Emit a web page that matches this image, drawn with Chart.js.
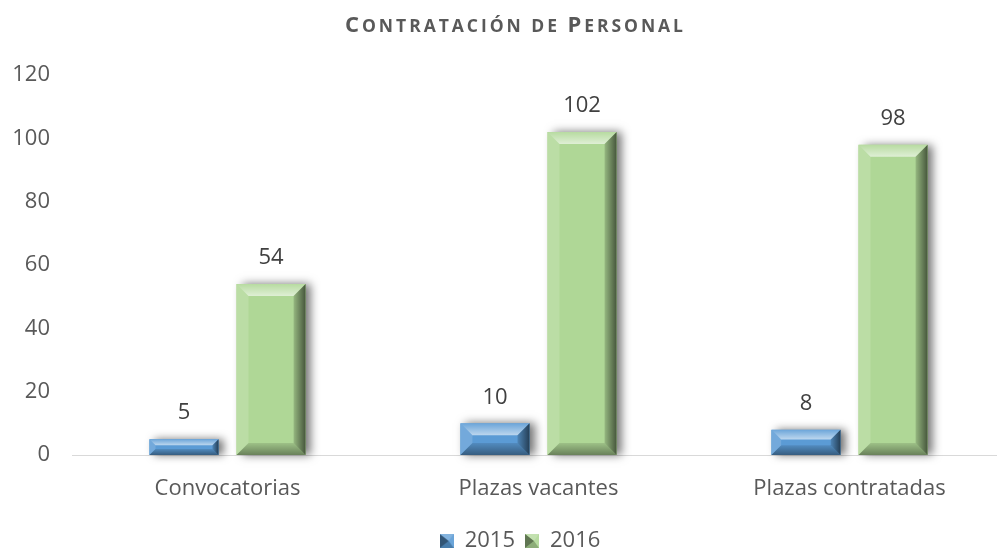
<!DOCTYPE html>
<html>
<head>
<meta charset="utf-8">
<script src="https://cdn.jsdelivr.net/npm/chart.js@4"></script>
<style>
html,body{margin:0;padding:0;background:#fff;overflow:hidden;width:997px;height:550px;}
#wrap{width:1028px;height:562px;}
</style>
</head>
<body>
<div id="wrap"><canvas id="c" width="1028" height="562"></canvas></div>
<script>
const categories = ['Convocatorias', 'Plazas vacantes', 'Plazas contratadas'];
const values2015 = [5, 10, 8];
const values2016 = [54, 102, 98];
const seriesNames = ['2015', '2016'];
const yTicks = [0, 20, 40, 60, 80, 100, 120];

const colors = ['#5b9bd5', '#afd796'];
const GAP = 9;
const FONT = "'Open Sans', sans-serif";

function legendIcon(color) {
  const s = 14;
  const cv = document.createElement('canvas');
  cv.width = s; cv.height = s;
  const c = cv.getContext('2d');
  c.fillStyle = color;
  c.fillRect(0, 0, s, s);
  const m = s / 2;
  const tri = (pts, fill) => {
    c.beginPath();
    c.moveTo(pts[0][0], pts[0][1]);
    for (let i = 1; i < pts.length; i++) c.lineTo(pts[i][0], pts[i][1]);
    c.closePath();
    c.fillStyle = fill;
    c.fill();
  };
  tri([[0, 0], [s, 0], [m + 2, m]], 'rgba(255,255,255,0.25)');
  tri([[0, 0], [m + 2, m], [0, s]], 'rgba(0,0,0,0.45)');
  tri([[0, s], [m + 2, m], [s, s]], 'rgba(0,0,0,0.2)');
  tri([[s, 0], [s, s], [m + 2, m]], 'rgba(255,255,255,0.1)');
  return cv;
}

// Title drawn as small caps (capitals full size, other letters as smaller capitals)
function drawSmallCapsTitle(ctx, text, cx, cy, color) {
  const big = "bold 22px " + FONT;
  const small = "bold 17.5px " + FONT;
  const chars = [...text].map(ch => {
    const isCap = ch !== ' ' && ch === ch.toUpperCase() && ch !== ch.toLowerCase();
    return { ch: ch.toUpperCase(), font: isCap ? big : small };
  });
  ctx.save();
  let total = 0;
  chars.forEach(o => { ctx.font = o.font; o.w = ctx.measureText(o.ch).width; total += o.w; });
  const ls = Math.max(0, (338 - total) / (chars.length - 1));
  const width = total + ls * (chars.length - 1);
  let x = cx - width / 2;
  ctx.fillStyle = color;
  ctx.textAlign = 'left';
  ctx.textBaseline = 'alphabetic';
  chars.forEach(o => {
    ctx.font = o.font;
    ctx.fillText(o.ch, x, cy + 8);
    x += o.w + ls;
  });
  ctx.restore();
}

const bevelPlugin = {
  id: 'bevel',
  afterLayout(chart) {
    if (chart.legend) { chart.legend.left = 0; chart.legend.right = 1040; }
    const tb = chart.titleBlock;
    if (tb && !tb._patched) {
      tb.draw = function () {
        const o = chart.options.plugins.title;
        drawSmallCapsTitle(this.ctx, o.text, 514, 24, o.color);
      };
      tb._patched = true;
    }
  },
  beforeDatasetsDraw(chart) {
    const ctx = chart.ctx;
    chart.data.datasets.forEach((ds, di) => {
      const meta = chart.getDatasetMeta(di);
      meta.data.forEach(el => {
        const p = el.getProps(['x', 'y', 'base', 'width'], true);
        const l = p.x - p.width / 2 + GAP, r = p.x + p.width / 2 - GAP;
        ctx.save();
        ctx.shadowColor = 'rgba(0,0,0,0.55)';
        ctx.shadowBlur = 9;
        ctx.shadowOffsetX = 5;
        ctx.shadowOffsetY = 0;
        ctx.fillStyle = ds.backgroundColor;
        ctx.fillRect(l, p.y, r - l, p.base - p.y);
        ctx.restore();
      });
    });
  },
  afterDatasetsDraw(chart) {
    const ctx = chart.ctx;
    chart.data.datasets.forEach((ds, di) => {
      const meta = chart.getDatasetMeta(di);
      meta.data.forEach((el, i) => {
        const p = el.getProps(['x', 'y', 'base', 'width'], true);
        const l = p.x - p.width / 2 + GAP, r = p.x + p.width / 2 - GAP;
        const t = p.y, b = p.base;
        const h = b - t;
        const bv = Math.min(12, h / 2.6);
        ctx.save();
        let g = ctx.createLinearGradient(0, t, 0, t + bv);
        g.addColorStop(0, 'rgba(255,255,255,0.1)');
        g.addColorStop(1, 'rgba(255,255,255,0.6)');
        ctx.fillStyle = g;
        ctx.beginPath();
        ctx.moveTo(l, t); ctx.lineTo(r, t); ctx.lineTo(r - bv, t + bv); ctx.lineTo(l + bv, t + bv); ctx.closePath();
        ctx.fill();
        ctx.fillStyle = 'rgba(255,255,255,0.15)';
        ctx.beginPath();
        ctx.moveTo(l, t); ctx.lineTo(l + bv, t + bv); ctx.lineTo(l + bv, b - bv); ctx.lineTo(l, b); ctx.closePath();
        ctx.fill();
        g = ctx.createLinearGradient(r - bv, 0, r, 0);
        g.addColorStop(0, 'rgba(0,0,0,0.15)');
        g.addColorStop(1, 'rgba(0,0,0,0.6)');
        ctx.fillStyle = g;
        ctx.beginPath();
        ctx.moveTo(r, t); ctx.lineTo(r, b); ctx.lineTo(r - bv, b - bv); ctx.lineTo(r - bv, t + bv); ctx.closePath();
        ctx.fill();
        g = ctx.createLinearGradient(0, b - bv, 0, b);
        g.addColorStop(0, 'rgba(0,0,0,0.1)');
        g.addColorStop(1, 'rgba(0,0,0,0.4)');
        ctx.fillStyle = g;
        ctx.beginPath();
        ctx.moveTo(l, b); ctx.lineTo(r, b); ctx.lineTo(r - bv, b - bv); ctx.lineTo(l + bv, b - bv); ctx.closePath();
        ctx.fill();
        ctx.restore();
        ctx.save();
        ctx.font = '22px ' + FONT;
        ctx.fillStyle = '#404040';
        ctx.textAlign = 'center';
        ctx.textBaseline = 'middle';
        ctx.fillText(String(ds.data[i]), p.x, t - 26);
        ctx.restore();
      });
    });
  }
};

new Chart(document.getElementById('c'), {
  type: 'bar',
  data: {
    labels: categories,
    datasets: [
      { label: seriesNames[0], data: values2015, backgroundColor: colors[0], pointStyle: legendIcon(colors[0]) },
      { label: seriesNames[1], data: values2016, backgroundColor: colors[1], pointStyle: legendIcon(colors[1]) }
    ]
  },
  options: {
    responsive: false,
    animation: false,
    layout: { padding: { left: 0, right: 23, top: 0, bottom: 0 } },
    datasets: {
      bar: {
        barPercentage: 1,
        categoryPercentage: 0.56,
        borderColor: 'rgba(0,0,0,0)',
        borderWidth: { left: GAP, right: GAP, top: 0, bottom: 0 },
        borderSkipped: false
      }
    },
    plugins: {
      title: {
        display: true,
        text: 'Contratación de Personal',
        color: '#595959',
        font: { family: FONT, size: 21, weight: 'bold' },
        padding: { top: 11, bottom: 38.8 }
      },
      legend: {
        position: 'bottom',
        labels: {
          color: '#595959',
          font: { family: FONT, size: 22 },
          boxWidth: 14,
          boxHeight: 14,
          usePointStyle: true,
          padding: 10
        }
      },
      tooltip: { enabled: false }
    },
    scales: {
      x: {
        grid: { display: false, drawTicks: false },
        border: { display: true, color: '#d9d9d9', width: 1 },
        ticks: { color: '#595959', font: { family: FONT, size: 22 }, padding: 21 },
        afterFit(scale) { scale.height = 65; }
      },
      y: {
        min: 0,
        max: 120,
        grid: { display: false, drawTicks: false },
        border: { display: false },
        afterBuildTicks(scale) { scale.ticks = yTicks.map(v => ({ value: v })); },
        ticks: { color: '#595959', font: { family: FONT, size: 22 }, padding: 22 },
        afterFit(scale) { scale.width = 72; }
      }
    }
  },
  plugins: [bevelPlugin]
});
</script>
</body>
</html>
